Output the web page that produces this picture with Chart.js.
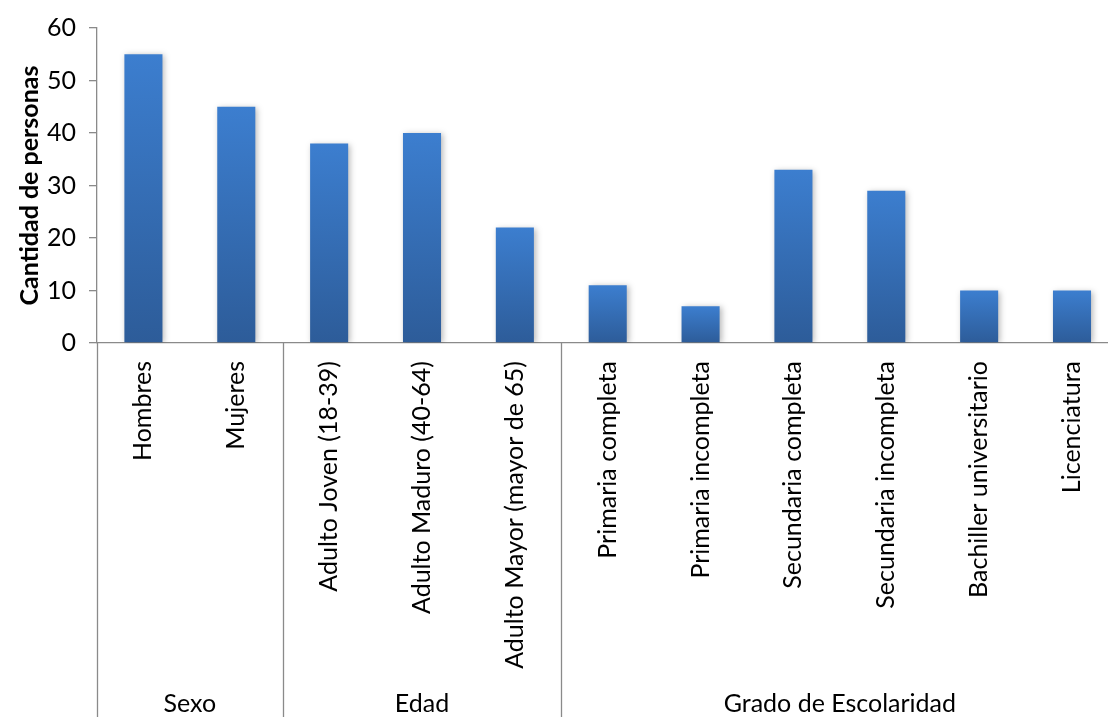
<!DOCTYPE html>
<html>
<head>
<meta charset="utf-8">
<script src="https://cdn.jsdelivr.net/npm/chart.js@4/dist/chart.umd.min.js"></script>
<style>
  html, body { margin: 0; padding: 0; background: #fff; overflow: hidden; }
  #wrap { position: relative; width: 1120px; height: 717px; }
</style>
</head>
<body>
<div id="wrap"><canvas id="c"></canvas></div>
<script>
const categories = [
  "Hombres", "Mujeres",
  "Adulto Joven (18-39)", "Adulto Maduro (40-64)", "Adulto Mayor (mayor de 65)",
  "Primaria completa", "Primaria incompleta", "Secundaria completa",
  "Secundaria incompleta", "Bachiller universitario", "Licenciatura"
];
const values = [55, 45, 38, 40, 22, 11, 7, 33, 29, 10, 10];
const groupNames = ["Sexo", "Edad", "Grado de Escolaridad"];
const groupSizes = [2, 3, 6];
const yTicks = [0, 10, 20, 30, 40, 50, 60];
const yTitle = "Cantidad de personas";

const FONT = "Lato, 'Open Sans', sans-serif";
const AXIS_COLOR = "#8a8a8a";

function barGradient(ctx) {
  const chart = ctx.chart;
  const ys = chart.scales.y;
  if (!ys || ctx.type !== 'data') return '#3a78c6';
  const top = ys.getPixelForValue(ctx.raw);
  const base = ys.getPixelForValue(0);
  if (!isFinite(top) || !isFinite(base) || top === base) return '#3a78c6';
  const g = chart.ctx.createLinearGradient(0, top, 0, base);
  g.addColorStop(0, '#3c7ecf');
  g.addColorStop(1, '#2d5c99');
  return g;
}

const shadowPlugin = {
  id: 'barShadow',
  beforeDatasetsDraw(chart) {
    const c = chart.ctx;
    c.save();
    c.shadowColor = 'rgba(0,0,0,0.28)';
    c.shadowBlur = 6;
    c.shadowOffsetX = 2;
    c.shadowOffsetY = 1;
  },
  afterDatasetsDraw(chart) {
    chart.ctx.restore();
  }
};

const groupPlugin = {
  id: 'groupAxis',
  afterDraw(chart) {
    const xs = chart.scales.x;
    const c = chart.ctx;
    const area = chart.chartArea;
    const H = chart.height;
    const half = (xs.getPixelForValue(1) - xs.getPixelForValue(0)) / 2;
    c.save();
    c.strokeStyle = AXIS_COLOR;
    c.lineWidth = 1.3;
    let idx = 0;
    const bounds = [xs.getPixelForValue(0) - half];
    groupSizes.forEach(n => { idx += n; bounds.push(xs.getPixelForValue(idx - 1) + half); });
    bounds.forEach(x => {
      c.beginPath();
      c.moveTo(Math.round(x) + 0.5, area.bottom);
      c.lineTo(Math.round(x) + 0.5, H);
      c.stroke();
    });
    c.fillStyle = '#000';
    c.font = "25px " + FONT;
    c.textAlign = 'center';
    c.textBaseline = 'middle';
    groupNames.forEach((name, i) => {
      c.fillText(name, (bounds[i] + bounds[i + 1]) / 2, 704);
    });
    c.restore();
  }
};

new Chart(document.getElementById('c'), {
  type: 'bar',
  data: {
    labels: categories,
    datasets: [{
      data: values,
      backgroundColor: barGradient,
      borderWidth: 0,
      barPercentage: 0.41,
      categoryPercentage: 1
    }]
  },
  options: {
    responsive: true,
    maintainAspectRatio: false,
    animation: false,
    devicePixelRatio: 1,
    layout: { padding: { top: 26, right: 0, bottom: 0, left: 0 } },
    plugins: { legend: { display: false }, tooltip: { enabled: false } },
    scales: {
      x: {
        grid: { display: false, drawTicks: false },
        border: { display: true, color: AXIS_COLOR, width: 1.3 },
        ticks: {
          autoSkip: false, minRotation: 90, maxRotation: 90,
          padding: 18, color: '#000',
          font: { family: FONT, size: 25 }
        },
        afterFit(scale) { scale.height = 374; }
      },
      y: {
        min: 0, max: 60,
        afterBuildTicks(scale) { scale.ticks = yTicks.map(v => ({ value: v })); },
        grid: { drawOnChartArea: false, drawTicks: true, tickLength: 8, color: AXIS_COLOR, lineWidth: 1.3 },
        border: { display: true, color: AXIS_COLOR, width: 1.3 },
        ticks: { padding: 13, color: '#000', font: { family: FONT, size: 25 } },
        title: {
          display: true, text: yTitle, color: '#000',
          font: { family: FONT, size: 25, weight: 'bold' },
          padding: { top: 15, bottom: 0 }
        },
        afterFit(scale) { scale.width = 97; }
      }
    }
  },
  plugins: [shadowPlugin, groupPlugin]
});
</script>
</body>
</html>
